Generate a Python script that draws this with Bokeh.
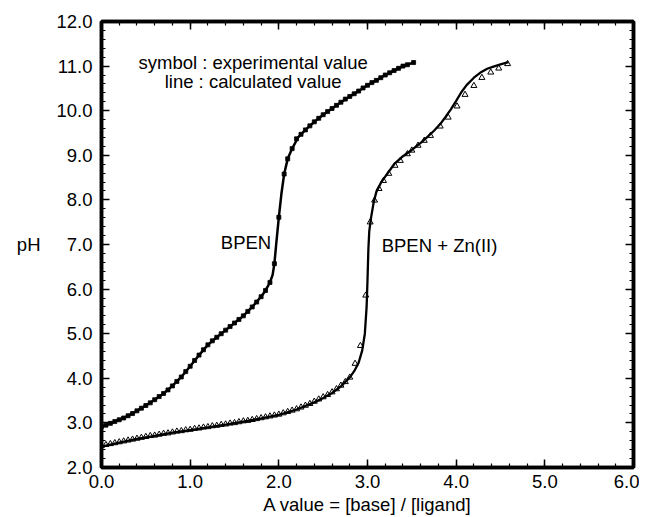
from bokeh.plotting import figure
from bokeh.models import Label, LinearAxis, PrintfTickFormatter, SingleIntervalTicker
from bokeh.embed import file_html
from bokeh.resources import INLINE

# ---------------- data ----------------
bpen_A = [0.00, 0.05, 0.10, 0.15, 0.20, 0.25, 0.30, 0.35, 0.40, 0.45, 0.50, 0.55, 0.60, 0.65,
          0.70, 0.75, 0.80, 0.85, 0.90, 0.95, 1.00, 1.05, 1.10, 1.15, 1.20, 1.25, 1.30, 1.35,
          1.40, 1.45, 1.50, 1.55, 1.60, 1.65, 1.70, 1.75, 1.80, 1.85, 1.90, 1.95, 2.00, 2.06,
          2.10, 2.15, 2.20, 2.25, 2.30, 2.35, 2.40, 2.45, 2.50, 2.55, 2.60, 2.65, 2.70, 2.75,
          2.80, 2.85, 2.90, 2.95, 3.00, 3.05, 3.10, 3.15, 3.20, 3.25, 3.30, 3.35, 3.40, 3.45, 3.52]
bpen_pH = [2.92, 2.95, 2.99, 3.03, 3.07, 3.11, 3.16, 3.21, 3.27, 3.33, 3.39, 3.45, 3.52, 3.59,
           3.66, 3.74, 3.83, 3.93, 4.03, 4.15, 4.27, 4.40, 4.52, 4.64, 4.75, 4.84, 4.92, 5.00,
           5.08, 5.16, 5.24, 5.32, 5.40, 5.50, 5.60, 5.71, 5.83, 5.97, 6.15, 6.57, 7.61, 8.58,
           8.92, 9.15, 9.37, 9.47, 9.57, 9.66, 9.75, 9.83, 9.91, 9.98, 10.05, 10.12, 10.19, 10.26,
           10.32, 10.38, 10.44, 10.51, 10.57, 10.63, 10.68, 10.74, 10.80, 10.85, 10.90, 10.95, 11.00, 11.03, 11.08]

bpen_calc_A = [0.00, 0.10, 0.20, 0.30, 0.40, 0.50, 0.60, 0.70, 0.80, 0.90, 1.00, 1.10, 1.20, 1.30,
               1.40, 1.50, 1.60, 1.70, 1.80, 1.85, 1.90, 1.93, 1.95, 1.97, 2.00, 2.03, 2.06, 2.10,
               2.15, 2.22, 2.30, 2.40, 2.50, 2.60, 2.70, 2.80, 2.90, 3.00, 3.10, 3.20, 3.30, 3.40, 3.52]
bpen_calc_pH = [2.92, 2.99, 3.07, 3.16, 3.27, 3.39, 3.52, 3.66, 3.83, 4.03, 4.27, 4.52, 4.75, 4.92,
                5.08, 5.24, 5.40, 5.60, 5.83, 5.97, 6.15, 6.32, 6.57, 7.00, 7.61, 8.15, 8.58, 8.92,
                9.15, 9.41, 9.57, 9.75, 9.91, 10.05, 10.19, 10.32, 10.44, 10.57, 10.68, 10.80, 10.90, 11.00, 11.08]

zn_A = [0.00, 0.05, 0.10, 0.15, 0.20, 0.25, 0.30, 0.35, 0.40, 0.45, 0.50, 0.55, 0.60, 0.65,
        0.70, 0.75, 0.80, 0.85, 0.90, 0.95, 1.00, 1.05, 1.10, 1.15, 1.20, 1.25, 1.30, 1.35,
        1.40, 1.45, 1.50, 1.55, 1.60, 1.65, 1.70, 1.75, 1.80, 1.85, 1.90, 1.95, 2.00, 2.05,
        2.10, 2.15, 2.20, 2.25, 2.30, 2.35, 2.40, 2.45, 2.50, 2.55, 2.60, 2.65, 2.70, 2.75,
        2.80, 2.86, 2.92, 2.98, 3.03, 3.08, 3.13, 3.18, 3.24, 3.31, 3.37, 3.45, 3.50, 3.57,
        3.64, 3.71, 3.82, 3.91, 4.01, 4.10, 4.20, 4.29, 4.39, 4.48, 4.58]
zn_pH = [2.49, 2.51, 2.53, 2.55, 2.57, 2.59, 2.61, 2.63, 2.65, 2.67, 2.69, 2.71, 2.72, 2.74,
         2.76, 2.77, 2.79, 2.81, 2.82, 2.84, 2.85, 2.87, 2.88, 2.90, 2.91, 2.93, 2.94, 2.96,
         2.97, 2.99, 3.00, 3.02, 3.04, 3.05, 3.07, 3.09, 3.11, 3.13, 3.15, 3.17, 3.19, 3.22,
         3.25, 3.28, 3.31, 3.35, 3.39, 3.43, 3.48, 3.53, 3.58, 3.63, 3.69, 3.76, 3.84, 3.92,
         4.02, 4.33, 4.73, 5.86, 7.50, 7.99, 8.25, 8.43, 8.59, 8.77, 8.88, 9.03, 9.11, 9.22,
         9.33, 9.44, 9.65, 9.85, 10.10, 10.36, 10.56, 10.74, 10.86, 10.95, 11.05]

zn_calc_A = [0.00, 0.20, 0.40, 0.60, 0.80, 1.00, 1.20, 1.40, 1.60, 1.80, 2.00, 2.20, 2.40, 2.50,
             2.60, 2.70, 2.80, 2.85, 2.90, 2.94, 2.97, 2.99, 3.00, 3.01, 3.02, 3.04, 3.07, 3.10,
             3.15, 3.20, 3.30, 3.40, 3.50, 3.60, 3.67, 3.75, 3.82, 3.88, 3.94, 4.00, 4.06, 4.12,
             4.20, 4.27, 4.35, 4.42, 4.50, 4.59]
zn_calc_pH = [2.47, 2.56, 2.64, 2.71, 2.78, 2.84, 2.90, 2.96, 3.03, 3.10, 3.18, 3.30, 3.46, 3.56,
              3.67, 3.82, 4.02, 4.16, 4.35, 4.62, 5.00, 5.60, 6.20, 6.90, 7.30, 7.60, 7.95, 8.18,
              8.38, 8.52, 8.80, 8.98, 9.12, 9.28, 9.40, 9.55, 9.70, 9.86, 10.03, 10.22, 10.42, 10.58,
              10.74, 10.85, 10.94, 10.99, 11.04, 11.09]

x_axis_label = "A value = [base] / [ligand]"
y_axis_label = "pH"
note_lines = ["symbol : experimental value", "line : calculated value"]
series_labels = ["BPEN", "BPEN + Zn(II)"]

FONT = "Liberation Sans"
FS = "18.5px"

p = figure(width=639, height=517, x_range=(0, 6), y_range=(2, 12),
           output_backend="svg", toolbar_location=None,
           min_border_left=101, min_border_right=6, min_border_top=21, min_border_bottom=50)
p.grid.visible = False
p.outline_line_color = "black"
p.outline_line_width = 3.5
p.background_fill_color = "white"
p.border_fill_color = "white"

xt = SingleIntervalTicker(interval=1.0, num_minor_ticks=5)
yt = SingleIntervalTicker(interval=1.0, num_minor_ticks=5)


def style_axis(ax, labels=True):
    ax.axis_line_width = 3.5
    ax.axis_line_color = "black"
    ax.major_tick_in = 8
    ax.major_tick_out = 0
    ax.minor_tick_in = 4
    ax.minor_tick_out = 0
    ax.major_tick_line_width = 1.5
    ax.minor_tick_line_width = 1.2
    ax.major_tick_line_color = "black"
    ax.minor_tick_line_color = "black"
    if labels:
        ax.major_label_text_font = FONT
        ax.major_label_text_font_size = FS
        ax.major_label_text_color = "black"
        ax.formatter = PrintfTickFormatter(format="%.1f")
        ax.axis_label_text_font = FONT
        ax.axis_label_text_font_size = FS
        ax.axis_label_text_font_style = "normal"
        ax.axis_label_text_color = "black"
    else:
        ax.major_label_text_font_size = "0px"
        ax.major_label_text_alpha = 0.0
        ax.major_label_text_color = None
        ax.major_label_standoff = 0


p.xaxis.ticker = xt
p.yaxis.ticker = yt
style_axis(p.xaxis[0])
style_axis(p.yaxis[0])
p.xaxis.major_label_standoff = 7
p.yaxis.major_label_standoff = 9
p.xaxis.axis_label = x_axis_label
p.xaxis.axis_label_standoff = 3
p.yaxis.axis_label = y_axis_label
p.yaxis.axis_label_standoff = 13
if "axis_label_orientation" in p.yaxis[0].properties():
    p.yaxis[0].axis_label_orientation = "horizontal"

top = LinearAxis(ticker=xt)
right = LinearAxis(ticker=yt)
style_axis(top, labels=False)
style_axis(right, labels=False)
p.add_layout(top, "above")
p.add_layout(right, "right")

# BPEN
p.line(bpen_calc_A, bpen_calc_pH, line_color="black", line_width=2.5)
p.scatter(bpen_A, bpen_pH, marker="square", size=4, fill_color="black", line_color="black", line_width=0.8)

# BPEN + Zn(II)
p.line(zn_calc_A, zn_calc_pH, line_color="black", line_width=2.3)
p.scatter(zn_A, zn_pH, marker="triangle", size=6, fill_color="white", fill_alpha=0.0,
          line_color="black", line_width=1.0)

# texts inside the frame
p.add_layout(Label(x=1.71, y=11.08, text=note_lines[0], text_align="center", text_baseline="middle",
                   text_font=FONT, text_font_size=FS, text_color="black"))
p.add_layout(Label(x=1.71, y=10.65, text=note_lines[1], text_align="center", text_baseline="middle",
                   text_font=FONT, text_font_size=FS, text_color="black"))
p.add_layout(Label(x=1.914, y=7.05, text=series_labels[0], text_align="right", text_baseline="middle",
                   text_font=FONT, text_font_size=FS, text_color="black"))
p.add_layout(Label(x=3.16, y=6.97, text=series_labels[1], text_align="left", text_baseline="middle",
                   text_font=FONT, text_font_size=FS, text_color="black"))

open("out.html", "w").write(file_html(p, INLINE))
